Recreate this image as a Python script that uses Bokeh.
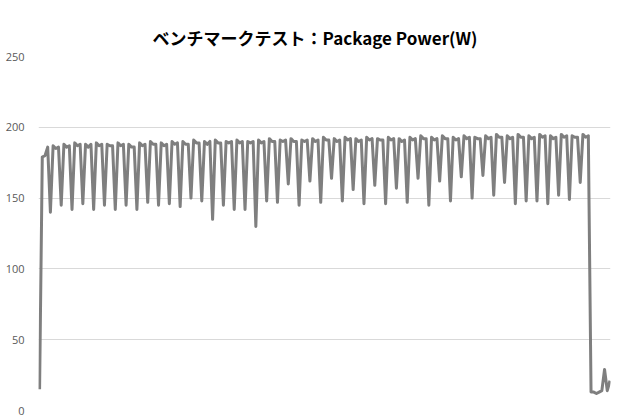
from bokeh.plotting import figure
from bokeh.models import Range1d, FixedTicker, LinearAxis
from bokeh.embed import file_html
from bokeh.resources import INLINE

title_text = "ベンチマークテスト：Package Power(W)"
y_ticks = [0, 50, 100, 150, 200, 250]

# Package power samples (W)
power = [
    15, 179, 180, 186,
    140, 187, 185, 186,
    145, 188, 186, 187,
    142, 189, 187, 188,
    146, 188, 186, 188,
    142, 189, 187, 188,
    145, 188, 187, 187,
    142, 189, 187, 188,
    145, 188, 186, 186,
    142, 189, 187, 188,
    147, 190, 188, 188,
    145, 189, 187, 188,
    146, 190, 188, 189,
    144, 190, 188, 188,
    150, 191, 189, 189,
    148, 190, 188, 190,
    135, 191, 189, 189,
    145, 190, 189, 190,
    142, 191, 189, 190,
    142, 190, 189, 190,
    130, 191, 189, 190,
    148, 192, 190, 190,
    147, 191, 190, 191,
    160, 192, 190, 190,
    145, 191, 190, 191,
    162, 192, 190, 191,
    147, 193, 191, 191,
    164, 192, 190, 191,
    148, 193, 191, 192,
    156, 192, 190, 191,
    146, 193, 191, 192,
    159, 192, 191, 191,
    146, 193, 191, 192,
    157, 192, 190, 191,
    147, 193, 191, 192,
    164, 194, 192, 192,
    145, 193, 191, 192,
    162, 194, 192, 192,
    148, 193, 191, 192,
    165, 194, 192, 193,
    150, 193, 192, 192,
    166, 194, 192, 193,
    152, 195, 193, 193,
    161, 194, 192, 193,
    146, 195, 193, 193,
    148, 194, 192, 193,
    148, 195, 193, 194,
    146, 194, 192, 193,
    152, 195, 193, 194,
    149, 194, 193, 193,
    161, 195, 193, 194,
    13, 13, 12, 13, 14, 29, 14, 21,
]
sample = list(range(len(power)))

p = figure(width=612, height=416, output_backend="svg", toolbar_location=None,
           x_range=Range1d(-0.4, len(power) - 0.8), y_range=Range1d(0, 250),
           min_border_left=38, min_border_right=2, min_border_top=56, min_border_bottom=6)

p.line(sample, power, line_color="#7f7f7f", line_width=3, line_join="round")

# hide the default bottom axis
bottom_axis = p.below[0]
bottom_axis.visible = False

# empty spacer axis between the plot area and the title
spacer = LinearAxis(ticker=FixedTicker(ticks=[]), axis_line_color=None,
                    major_tick_out=14, major_tick_in=0, minor_tick_out=0,
                    minor_tick_in=0, major_label_standoff=0,
                    major_tick_line_color=None, minor_tick_line_color=None)
p.add_layout(spacer, "above")

p.title.text = title_text
p.title.align = "left"
p.title.offset = 114
p.title.vertical_align = "top"
p.title.text_font = "Noto Sans CJK JP"
p.title.text_font_size = "17px"
p.title.text_font_style = "bold"
p.title.text_color = "#000000"
p.title.standoff = 10

p.xgrid.visible = False
p.yaxis.ticker = FixedTicker(ticks=y_ticks)
p.yaxis.axis_line_color = None
p.yaxis.major_tick_line_color = None
p.yaxis.minor_tick_line_color = None
p.yaxis.major_label_text_font = "Open Sans"
p.yaxis.major_label_text_font_size = "11px"
p.yaxis.major_label_text_color = "#595959"
p.yaxis.major_label_standoff = 8
p.ygrid.grid_line_color = "#d9d9d9"
p.ygrid.grid_line_width = 1
p.outline_line_color = None

open("out.html", "w").write(file_html(p, INLINE))
